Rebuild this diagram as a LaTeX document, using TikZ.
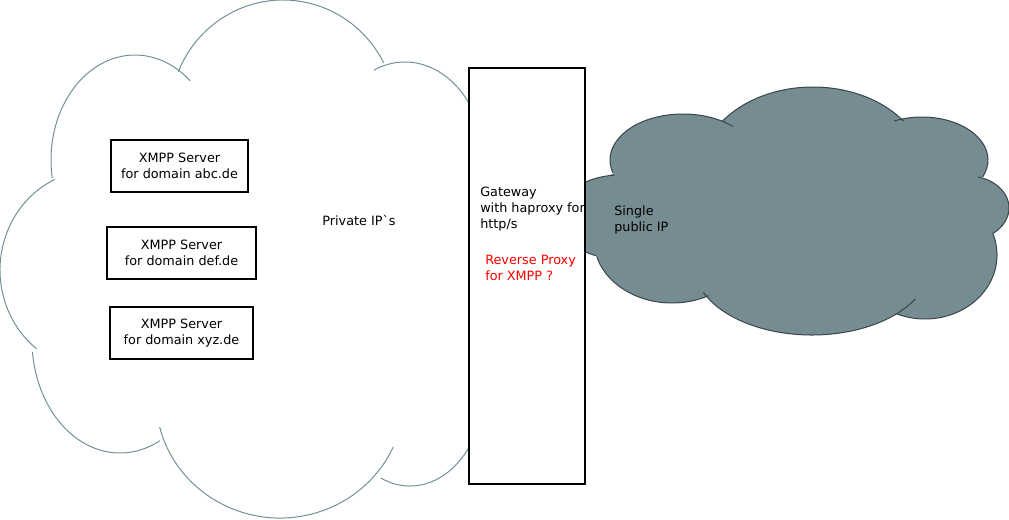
\documentclass[tikz,border=0pt]{standalone}
\usepackage{fontspec}
\setmainfont{DejaVu Sans}[Ligatures=TeXOff]
\definecolor{cloudedge}{RGB}{112,146,150}
\definecolor{netgray}{RGB}{118,139,146}
\definecolor{netedge}{RGB}{55,70,74}

\begin{document}
\begin{tikzpicture}[x=0.75pt, y=-0.75pt,
		cloudline/.style={draw=cloudedge, line width=0.75pt},
		netline/.style={draw=netedge, line width=0.75pt},
		server/.style={draw, line width=1.5pt, align=center, font=\fontsize{9.6}{12}\selectfont},
		lbl/.style={align=left, inner sep=0pt, font=\fontsize{9.6}{12}\selectfont}]
		\useasboundingbox (0,0) rectangle (1009,519);
		% private net cloud
		\foreach \cx/\cy/\rx/\ry/\s/\e in {135/160/84/105/170/311, 283/115/113/115/202/333,
			405/165/80/103/247/380, 95/270/95/100/245/128, 120/340/88/113/174/63,
			280/398/124/120/166/24, 410/385/75/101/113/-10}
			\draw[cloudline] (\cx,\cy) ++(\s:{\rx} and {\ry}) arc[start angle=\s, end angle=\e, x radius=\rx, y radius=\ry];
		% public net cloud
		\fill[netgray] (600,180) -- (700,130) -- (900,130) -- (985,200) -- (970,260) -- (900,300) -- (700,290) -- (600,250) -- cycle;
		\foreach \cx/\cy/\rx/\ry in {620/217/62/42, 683/160/73/46, 813/170/112/83, 922/160/66/43,
			968/208/41/32, 925/255/72/64, 812/265/118/70, 672/240/78/63}
			\fill[netgray] (\cx,\cy) ellipse[x radius=\rx, y radius=\ry];
		\foreach \cx/\cy/\rx/\ry/\s/\e in {620/217/62/42/265/113, 683/160/73/46/164/313,
			813/170/112/83/216/324, 922/160/66/43/245/383, 968/208/41/32/284/412,
			925/255/72/64/340/473, 812/265/118/70/29/157, 672/240/78/63/165/62}
			\draw[netline] (\cx,\cy) ++(\s:{\rx} and {\ry}) arc[start angle=\s, end angle=\e, x radius=\rx, y radius=\ry];
		% gateway
		\node[draw, line width=1.5pt, fill=white, minimum width=87pt, minimum height=312pt] (gateway) at (527,276) {};
		\node[lbl, anchor=west] (gwtext) at (480,209) {Gateway\\with haproxy for\\http/s};
		\node[lbl, anchor=west, text=red] (proxytext) at (485,268) {Reverse Proxy\\for XMPP ?};
		\node[lbl, anchor=west] (publicip) at (614,220) {Single\\public IP};
		\node[lbl] (privateip) at (359,220) {Private IP`s};
		% servers
		\node[server, minimum width=103pt, minimum height=39pt] (abc) at (179.5,165.5) {XMPP Server\\for domain abc.de};
		\node[server, minimum width=112pt, minimum height=39.5pt] (def) at (181.5,253) {XMPP Server\\for domain def.de};
		\node[server, minimum width=107.5pt, minimum height=39.5pt] (xyz) at (181.5,333) {XMPP Server\\for domain xyz.de};
	\end{tikzpicture}
\end{document}
